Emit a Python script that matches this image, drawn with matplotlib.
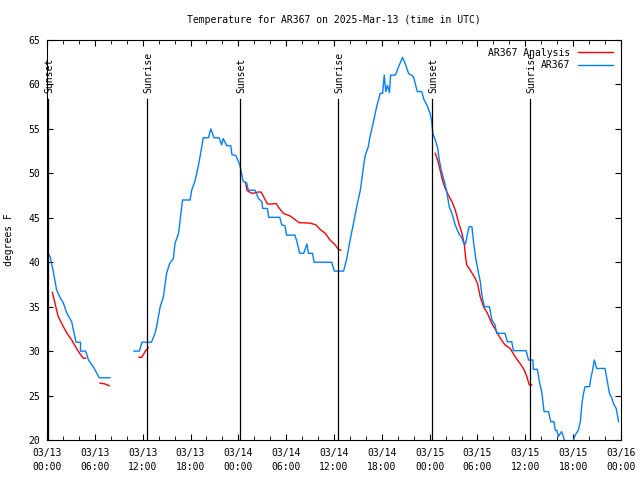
import numpy as np
import matplotlib
matplotlib.use('Agg')
from matplotlib import pyplot as plt

nan = np.nan

# hours since 2025-03-13 00:00 UTC
obs_hours = [0.15, 0.4, 0.8, 1.2, 1.6, 2.05, 2.5, 3.1, 3.3, 3.65, 4.2, 4.2, 4.85, 5.2, 5.8, 6.55, 7.9, 9.0,
	10.9, 11.6, 11.9, 13.1, 13.55, 13.75, 14.2, 14.6, 15.0, 15.4, 15.85, 16.05, 16.5, 16.7, 17.0, 17.95,
	18.15, 18.55, 19.0, 19.3, 19.6, 20.25, 20.55, 20.95, 21.6, 21.9, 22.1, 22.55, 23.05, 23.2, 23.7,
	24.2, 24.6, 25.05, 25.25, 26.1, 26.5, 26.95, 27.05, 27.65, 27.8, 29.2, 29.45, 29.85, 30.05, 31.1,
	31.35, 31.7, 32.2, 32.6, 32.8, 33.3, 33.5, 35.7, 36.05, 37.2, 37.6, 38.0, 38.45, 38.85, 39.3, 39.7,
	39.9, 40.3, 40.5, 40.95, 41.35, 41.8, 42.1, 42.3, 42.5, 42.7, 42.95, 43.1, 43.65, 43.8, 44.15, 44.6,
	44.9, 45.35, 45.95, 46.45, 47.0, 47.3, 47.65, 48.05, 48.25, 48.4, 48.7, 49.0, 49.2, 49.5, 49.85,
	50.15, 50.45, 50.8, 51.2, 51.65, 52.05, 52.3, 52.5, 52.8, 52.95, 53.3, 53.5, 53.75, 54.1, 54.35,
	54.55, 54.85, 55.5, 55.8, 56.2, 56.4, 57.45, 57.75, 58.3, 58.5, 60.1, 60.4, 60.95, 61.0, 61.5, 61.8,
	62.05, 62.35, 62.9, 63.2, 63.6, 63.75, 63.95, 64.15, 64.55, 64.9, 65.3, 65.8, 66.05, 66.25, 66.65,
	66.9, 67.1, 67.3, 67.5, 68.05, 68.25, 68.45, 68.65, 68.95, 70.0, 70.3, 70.55, 70.85, 71.05, 71.4, 71.7]
obs_temp = [41.0, 40.6, 38.9, 36.9, 36.1, 35.4, 34.25, 33.3, 32.4, 31.0, 31.0, 30.0, 30.0, 29.0, 28.25, 27.0, 27.0, nan,
	30.0, 30.0, 31.0, 31.0, 32.0, 32.75, 35.0, 36.1, 38.75, 39.9, 40.4, 42.1, 43.25, 44.75, 47.0, 47.0,
	48.1, 49.1, 50.9, 52.4, 54.0, 54.0, 55.0, 54.0, 54.0, 53.2, 53.9, 53.1, 53.1, 52.1, 52.0,
	50.9, 49.1, 48.9, 48.1, 48.1, 47.2, 46.8, 46.05, 46.05, 45.05, 45.05, 44.2, 44.1, 43.05, 43.05,
	42.3, 41.0, 41.0, 42.05, 41.0, 41.0, 40.0, 40.0, 39.0, 39.0, 40.4, 42.4, 44.4, 46.25, 48.1, 50.75,
	51.95, 53.0, 54.05, 55.8, 57.5, 59.0, 59.0, 61.05, 59.2, 59.9, 59.1, 61.05, 61.05, 61.25, 62.1, 63.05,
	62.4, 61.25, 60.9, 59.2, 59.2, 58.25, 57.7, 56.75, 55.9, 54.5, 53.75, 52.9, 51.5, 50.2, 49.05,
	47.9, 46.25, 45.5, 44.2, 43.25, 42.7, 42.05, 42.05, 43.45, 44.0, 44.0, 42.3, 40.6, 38.9, 37.8,
	36.3, 35.0, 35.0, 33.5, 32.95, 32.0, 32.0, 31.05, 31.05, 30.05, 30.05, 29.0, 29.0, 27.95, 27.95, 26.4,
	25.45, 23.2, 23.2, 22.05, 22.05, 21.1, 21.1, 20.4, 20.95, 20.0, 19.0, 19.0, 20.0, 20.55, 21.1,
	22.05, 24.1, 25.25, 26.0, 26.0, 27.1, 27.9, 29.0, 28.05, 28.05, 26.55, 25.25, 24.7, 24.1, 23.55, 22.05]

ana_hours = [0.67, 1.0, 1.4, 1.85, 2.5, 3.1, 3.7, 4.1, 4.55, 4.85, 5.7, 6.65, 7.3, 7.8, 9.5,
	11.55, 11.9, 12.3, 12.7, 18.0,
	24.9, 25.1, 25.7, 26.1, 26.5, 26.85, 27.15, 27.65, 28.2, 28.75, 29.15, 29.65, 30.5, 31.1, 31.65,
	33.0, 33.75, 34.25, 34.9, 35.5, 36.15, 36.55, 36.85, 42.0,
	48.7, 49.0, 49.3, 49.6, 49.95, 50.35, 50.8, 51.2, 51.65, 52.05, 52.35, 52.5, 52.65, 53.1, 53.7, 54.0,
	54.35, 54.75, 55.25, 55.8, 56.4, 56.85, 57.45, 58.1, 58.7, 59.35, 59.85, 60.2, 60.5, 60.8]
ana_temp = [36.6, 35.4, 33.9, 33.1, 32.0, 31.25, 30.3, 29.75, 29.2, 29.2, nan, 26.4, 26.3, 26.1, nan,
	29.3, 29.3, 29.95, 30.4, nan,
	49.0, 48.05, 47.75, 47.8, 47.9, 47.9, 47.4, 46.55, 46.55, 46.6, 46.05, 45.5, 45.2, 44.8, 44.45,
	44.4, 44.2, 43.7, 43.25, 42.5, 41.95, 41.45, 41.35, nan,
	52.25, 51.5, 50.4, 49.25, 48.3, 47.55, 46.8, 45.9, 44.4, 43.25, 42.0, 40.6, 39.7, 39.1, 38.2, 37.6,
	36.1, 35.0, 34.25, 33.1, 32.2, 31.45, 30.7, 30.3, 29.4, 28.6, 27.9, 27.1, 26.2, 26.2]

sun_hours = [0.1, 12.55, 24.2, 36.5, 48.3, 60.6]
sun_labels = ['Sunset', 'Sunrise', 'Sunset', 'Sunrise', 'Sunset', 'Sunrise']

tick_hours = list(range(0, 73, 6))
tick_labels = ['03/13\n00:00', '03/13\n06:00', '03/13\n12:00', '03/13\n18:00',
	'03/14\n00:00', '03/14\n06:00', '03/14\n12:00', '03/14\n18:00',
	'03/15\n00:00', '03/15\n06:00', '03/15\n12:00', '03/15\n18:00', '03/16\n00:00']

plt.rcParams['font.family'] = ['DejaVu Sans Mono']
plt.rcParams['font.size'] = 7

fig = plt.figure(figsize=(6.4, 4.8), dpi=100)
ax = fig.add_axes([47/640, 40/480, 574/640, 400/480])

ax.plot(ana_hours, ana_temp, color='#ff0000', lw=1.0, label='AR367 Analysis')
ax.plot(obs_hours, obs_temp, color='#0080ff', lw=1.0, label='AR367')

for h, lab in zip(sun_hours, sun_labels):
	ax.plot([h, h], [20, 58.4], color='black', lw=0.9)
	ax.text(h + 0.15, 59.0, lab, rotation=90, ha='center', va='bottom', fontsize=7)

ax.set_xlim(0, 72)
ax.set_ylim(20, 65)
ax.set_xticks(tick_hours)
ax.set_xticklabels(tick_labels, linespacing=1.5)
ax.set_xticks(range(0, 73, 2), minor=True)
ax.set_yticks(range(20, 66, 5))
ax.tick_params(direction='in', length=4, top=True, right=True, pad=6)
ax.tick_params(which='minor', direction='in', length=3, top=True)
ax.tick_params(axis='y', pad=5)
ax.set_ylabel('degrees F', labelpad=10)
ax.set_title('Temperature for AR367 on 2025-Mar-13 (time in UTC)', fontsize=7, pad=12)

ax.legend(loc='upper right', frameon=False, markerfirst=False, handlelength=3.6,
	borderaxespad=0.4, labelspacing=0.25, handletextpad=0.8, fontsize=7)

fig.savefig('out.png', dpi=100)
plt.close()
